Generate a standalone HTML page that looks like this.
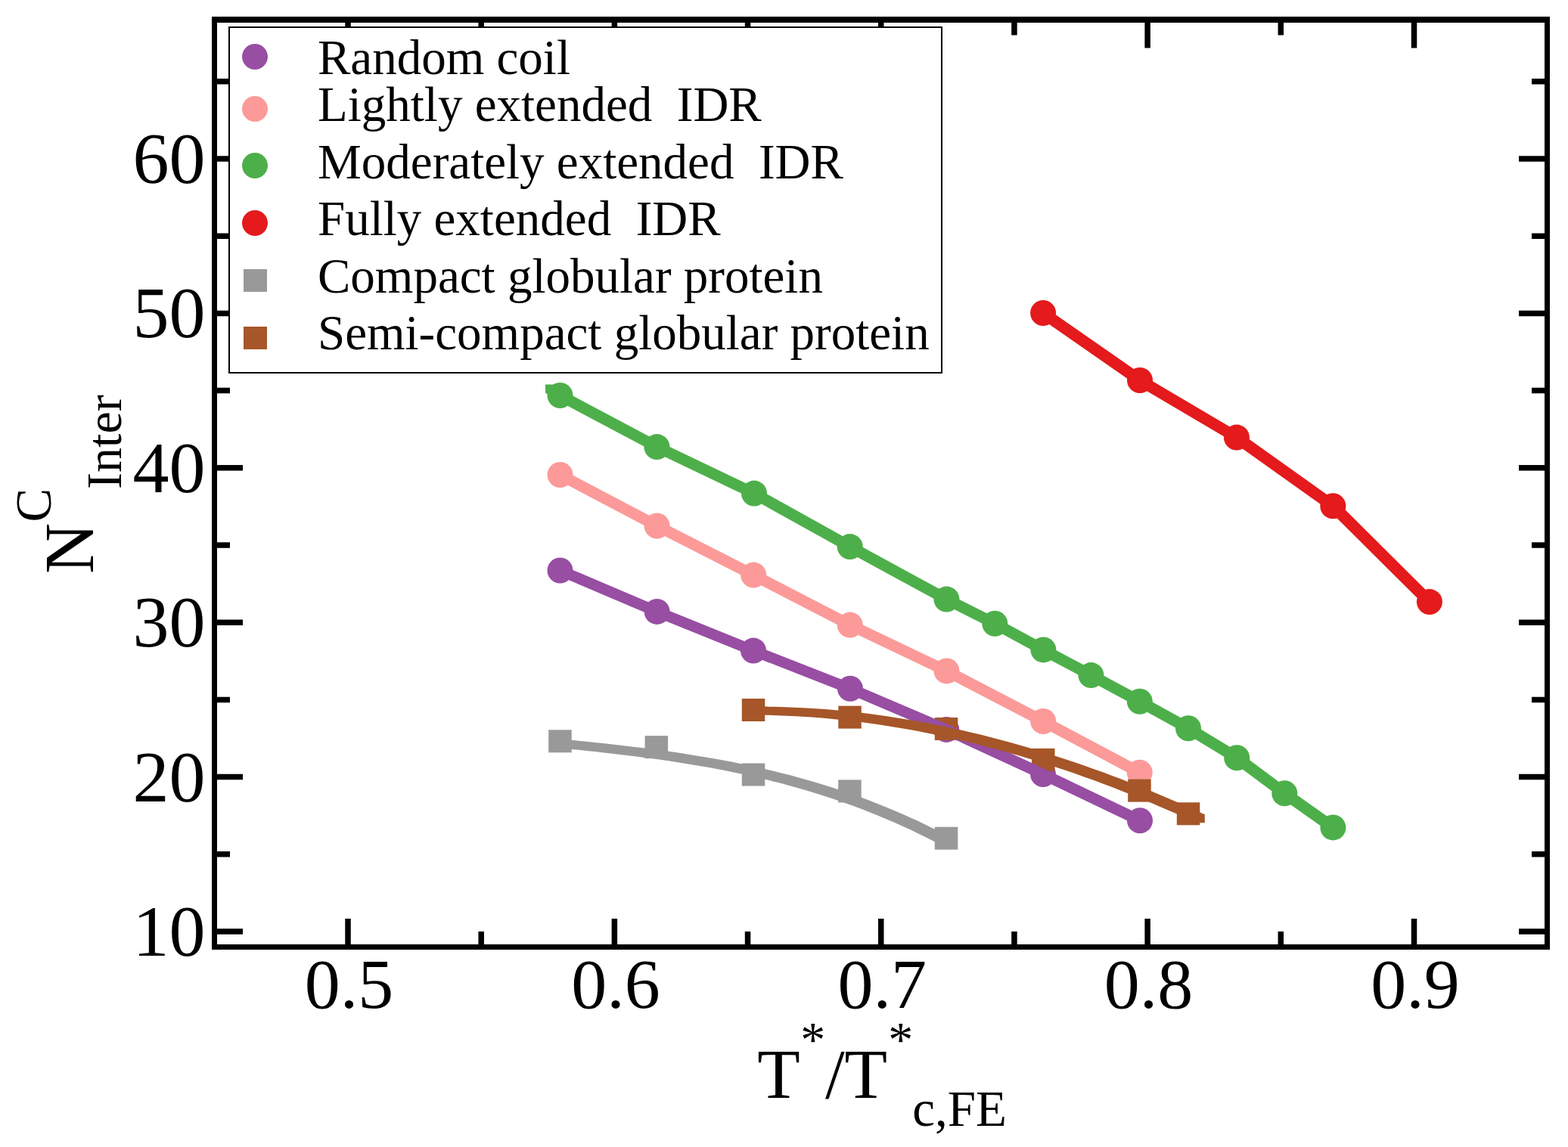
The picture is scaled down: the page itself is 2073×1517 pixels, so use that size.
<!DOCTYPE html><html><head><meta charset="utf-8"><title>N Inter vs T</title>
<style>html,body{margin:0;padding:0;background:#fff;}svg{display:block;}text{font-family:'Liberation Serif', 'Times New Roman', serif;fill:#000;}</style></head><body>
<svg width="2073" height="1517" viewBox="0 0 2073 1517">
<rect x="0" y="0" width="2073" height="1517" fill="#fff"/>
<g>
<circle cx="740.5" cy="754.5" r="17" fill="#984ea3"/><circle cx="868.6" cy="808.9" r="17" fill="#984ea3"/><circle cx="996.0" cy="860.6" r="17" fill="#984ea3"/><circle cx="1124.0" cy="910.8" r="17" fill="#984ea3"/><circle cx="1251.2" cy="964.9" r="17" fill="#984ea3"/><circle cx="1379.0" cy="1024.0" r="17" fill="#984ea3"/><circle cx="1507.0" cy="1085.3" r="17" fill="#984ea3"/><circle cx="740.5" cy="628.0" r="17" fill="#fb9a99"/><circle cx="868.6" cy="695.5" r="17" fill="#fb9a99"/><circle cx="996.2" cy="760.6" r="17" fill="#fb9a99"/><circle cx="1123.7" cy="826.6" r="17" fill="#fb9a99"/><circle cx="1251.5" cy="887.4" r="17" fill="#fb9a99"/><circle cx="1379.2" cy="954.0" r="17" fill="#fb9a99"/><circle cx="1506.7" cy="1021.8" r="17" fill="#fb9a99"/><circle cx="740.5" cy="523.0" r="17" fill="#4daf4a"/><circle cx="868.4" cy="591.1" r="17" fill="#4daf4a"/><circle cx="997.0" cy="652.6" r="17" fill="#4daf4a"/><circle cx="1123.7" cy="723.1" r="17" fill="#4daf4a"/><circle cx="1251.4" cy="792.6" r="17" fill="#4daf4a"/><circle cx="1315.3" cy="824.7" r="17" fill="#4daf4a"/><circle cx="1379.4" cy="859.4" r="17" fill="#4daf4a"/><circle cx="1442.4" cy="893.1" r="17" fill="#4daf4a"/><circle cx="1506.8" cy="927.7" r="17" fill="#4daf4a"/><circle cx="1571.0" cy="963.3" r="17" fill="#4daf4a"/><circle cx="1635.2" cy="1002.3" r="17" fill="#4daf4a"/><circle cx="1698.3" cy="1049.2" r="17" fill="#4daf4a"/><circle cx="1762.4" cy="1094.4" r="17" fill="#4daf4a"/><circle cx="1379.1" cy="414.0" r="17" fill="#e41a1c"/><circle cx="1507.0" cy="503.0" r="17" fill="#e41a1c"/><circle cx="1634.9" cy="578.6" r="17" fill="#e41a1c"/><circle cx="1762.3" cy="669.2" r="17" fill="#e41a1c"/><circle cx="1889.9" cy="796.1" r="17" fill="#e41a1c"/>
<rect x="725.2" y="965.3" width="30.5" height="30" fill="#999999"/><rect x="852.6" y="973.1" width="30.5" height="30" fill="#999999"/><rect x="980.8" y="1009.5" width="30.5" height="30" fill="#999999"/><rect x="1108.2" y="1031.4" width="30.5" height="30" fill="#999999"/><rect x="1235.8" y="1093.7" width="30.5" height="30" fill="#999999"/><rect x="980.8" y="924.0" width="30.5" height="30" fill="#a65628"/><rect x="1108.3" y="933.6" width="30.5" height="30" fill="#a65628"/><rect x="1235.8" y="949.0" width="30.5" height="30" fill="#a65628"/><rect x="1364.0" y="989.9" width="30.5" height="30" fill="#a65628"/><rect x="1491.2" y="1030.6" width="30.5" height="30" fill="#a65628"/><rect x="1555.8" y="1061.3" width="30.5" height="30" fill="#a65628"/>
<path d="M735.00,749.00 746.00,749.00 874.10,803.40 874.10,814.40 863.10,814.40 735.00,760.00ZM863.10,803.40 874.10,803.40 1001.50,855.10 1001.50,866.10 990.50,866.10 863.10,814.40ZM990.50,855.10 1001.50,855.10 1129.50,905.30 1129.50,916.30 1118.50,916.30 990.50,866.10ZM1118.50,905.30 1129.50,905.30 1256.70,959.40 1256.70,970.40 1245.70,970.40 1118.50,916.30ZM1245.70,959.40 1256.70,959.40 1384.50,1018.50 1384.50,1029.50 1373.50,1029.50 1245.70,970.40ZM1373.50,1018.50 1384.50,1018.50 1512.50,1079.80 1512.50,1090.80 1501.50,1090.80 1373.50,1029.50Z" fill="#984ea3"/>
<path d="M735.00,622.50 746.00,622.50 874.10,690.00 874.10,701.00 863.10,701.00 735.00,633.50ZM863.10,690.00 874.10,690.00 1001.70,755.10 1001.70,766.10 990.70,766.10 863.10,701.00ZM990.70,755.10 1001.70,755.10 1129.20,821.10 1129.20,832.10 1118.20,832.10 990.70,766.10ZM1118.20,821.10 1129.20,821.10 1257.00,881.90 1257.00,892.90 1246.00,892.90 1118.20,832.10ZM1246.00,881.90 1257.00,881.90 1384.70,948.50 1384.70,959.50 1373.70,959.50 1246.00,892.90ZM1373.70,948.50 1384.70,948.50 1512.20,1016.30 1512.20,1027.30 1501.20,1027.30 1373.70,959.50Z" fill="#fb9a99"/>
<path d="M721.00,508.50 732.00,508.50 746.00,517.50 746.00,528.50 735.00,528.50 721.00,519.50ZM735.00,517.50 746.00,517.50 873.90,585.60 873.90,596.60 862.90,596.60 735.00,528.50ZM862.90,585.60 873.90,585.60 1002.50,647.10 1002.50,658.10 991.50,658.10 862.90,596.60ZM991.50,647.10 1002.50,647.10 1129.20,717.60 1129.20,728.60 1118.20,728.60 991.50,658.10ZM1118.20,717.60 1129.20,717.60 1256.90,787.10 1256.90,798.10 1245.90,798.10 1118.20,728.60ZM1245.90,787.10 1256.90,787.10 1320.80,819.20 1320.80,830.20 1309.80,830.20 1245.90,798.10ZM1309.80,819.20 1320.80,819.20 1384.90,853.90 1384.90,864.90 1373.90,864.90 1309.80,830.20ZM1373.90,853.90 1384.90,853.90 1447.90,887.60 1447.90,898.60 1436.90,898.60 1373.90,864.90ZM1436.90,887.60 1447.90,887.60 1512.30,922.20 1512.30,933.20 1501.30,933.20 1436.90,898.60ZM1501.30,922.20 1512.30,922.20 1576.50,957.80 1576.50,968.80 1565.50,968.80 1501.30,933.20ZM1565.50,957.80 1576.50,957.80 1640.70,996.80 1640.70,1007.80 1629.70,1007.80 1565.50,968.80ZM1629.70,996.80 1640.70,996.80 1703.80,1043.70 1703.80,1054.70 1692.80,1054.70 1629.70,1007.80ZM1692.80,1043.70 1703.80,1043.70 1767.90,1088.90 1767.90,1099.90 1756.90,1099.90 1692.80,1054.70Z" fill="#4daf4a"/>
<path d="M1373.60,408.50 1384.60,408.50 1512.50,497.50 1512.50,508.50 1501.50,508.50 1373.60,419.50ZM1501.50,497.50 1512.50,497.50 1640.40,573.10 1640.40,584.10 1629.40,584.10 1501.50,508.50ZM1629.40,573.10 1640.40,573.10 1767.80,663.70 1767.80,674.70 1756.80,674.70 1629.40,584.10ZM1756.80,663.70 1767.80,663.70 1895.40,790.60 1895.40,801.60 1884.40,801.60 1756.80,674.70Z" fill="#e41a1c"/>
<path d="M735.00,977.83 746.00,977.83 756.64,978.88 756.64,989.88 745.64,989.88 735.00,988.83ZM745.64,978.88 756.64,978.88 767.27,979.95 767.27,990.95 756.27,990.95 745.64,989.88ZM756.27,979.95 767.27,979.95 777.91,981.03 777.91,992.03 766.91,992.03 756.27,990.95ZM766.91,981.03 777.91,981.03 788.54,982.14 788.54,993.14 777.54,993.14 766.91,992.03ZM777.54,982.14 788.54,982.14 799.18,983.28 799.18,994.28 788.18,994.28 777.54,993.14ZM788.18,983.28 799.18,983.28 809.81,984.45 809.81,995.45 798.81,995.45 788.18,994.28ZM798.81,984.45 809.81,984.45 820.45,985.66 820.45,996.66 809.45,996.66 798.81,995.45ZM809.45,985.66 820.45,985.66 831.08,986.90 831.08,997.90 820.08,997.90 809.45,996.66ZM820.08,986.90 831.08,986.90 841.72,988.19 841.72,999.19 830.72,999.19 820.08,997.90ZM830.72,988.19 841.72,988.19 852.35,989.52 852.35,1000.52 841.35,1000.52 830.72,999.19ZM841.35,989.52 852.35,989.52 862.99,990.90 862.99,1001.90 851.99,1001.90 841.35,1000.52ZM851.99,990.90 862.99,990.90 873.62,992.33 873.62,1003.33 862.62,1003.33 851.99,1001.90ZM862.62,992.33 873.62,992.33 884.26,993.82 884.26,1004.82 873.26,1004.82 862.62,1003.33ZM873.26,993.82 884.26,993.82 894.90,995.36 894.90,1006.36 883.90,1006.36 873.26,1004.82ZM883.90,995.36 894.90,995.36 905.53,996.97 905.53,1007.97 894.53,1007.97 883.90,1006.36ZM894.53,996.97 905.53,996.97 916.17,998.64 916.17,1009.64 905.17,1009.64 894.53,1007.97ZM905.17,998.64 916.17,998.64 926.80,1000.39 926.80,1011.39 915.80,1011.39 905.17,1009.64ZM915.80,1000.39 926.80,1000.39 937.44,1002.20 937.44,1013.20 926.44,1013.20 915.80,1011.39ZM926.44,1002.20 937.44,1002.20 948.07,1004.10 948.07,1015.10 937.07,1015.10 926.44,1013.20ZM937.07,1004.10 948.07,1004.10 958.71,1006.07 958.71,1017.07 947.71,1017.07 937.07,1015.10ZM947.71,1006.07 958.71,1006.07 969.34,1008.12 969.34,1019.12 958.34,1019.12 947.71,1017.07ZM958.34,1008.12 969.34,1008.12 979.98,1010.26 979.98,1021.26 968.98,1021.26 958.34,1019.12ZM968.98,1010.26 979.98,1010.26 990.61,1012.49 990.61,1023.49 979.61,1023.49 968.98,1021.26ZM979.61,1012.49 990.61,1012.49 1001.25,1014.82 1001.25,1025.82 990.25,1025.82 979.61,1023.49ZM990.25,1014.82 1001.25,1014.82 1011.89,1017.24 1011.89,1028.24 1000.89,1028.24 990.25,1025.82ZM1000.89,1017.24 1011.89,1017.24 1022.52,1019.76 1022.52,1030.76 1011.52,1030.76 1000.89,1028.24ZM1011.52,1019.76 1022.52,1019.76 1033.16,1022.38 1033.16,1033.38 1022.16,1033.38 1011.52,1030.76ZM1022.16,1022.38 1033.16,1022.38 1043.79,1025.11 1043.79,1036.11 1032.79,1036.11 1022.16,1033.38ZM1032.79,1025.11 1043.79,1025.11 1054.43,1027.95 1054.43,1038.95 1043.43,1038.95 1032.79,1036.11ZM1043.43,1027.95 1054.43,1027.95 1065.06,1030.90 1065.06,1041.90 1054.06,1041.90 1043.43,1038.95ZM1054.06,1030.90 1065.06,1030.90 1075.70,1033.97 1075.70,1044.97 1064.70,1044.97 1054.06,1041.90ZM1064.70,1033.97 1075.70,1033.97 1086.33,1037.17 1086.33,1048.17 1075.33,1048.17 1064.70,1044.97ZM1075.33,1037.17 1086.33,1037.17 1096.97,1040.48 1096.97,1051.48 1085.97,1051.48 1075.33,1048.17ZM1085.97,1040.48 1096.97,1040.48 1107.60,1043.92 1107.60,1054.92 1096.60,1054.92 1085.97,1051.48ZM1096.60,1043.92 1107.60,1043.92 1118.24,1047.50 1118.24,1058.50 1107.24,1058.50 1096.60,1054.92ZM1107.24,1047.50 1118.24,1047.50 1128.88,1051.21 1128.88,1062.21 1117.88,1062.21 1107.24,1058.50ZM1117.88,1051.21 1128.88,1051.21 1139.51,1055.05 1139.51,1066.05 1128.51,1066.05 1117.88,1062.21ZM1128.51,1055.05 1139.51,1055.05 1150.15,1059.04 1150.15,1070.04 1139.15,1070.04 1128.51,1066.05ZM1139.15,1059.04 1150.15,1059.04 1160.78,1063.17 1160.78,1074.17 1149.78,1074.17 1139.15,1070.04ZM1149.78,1063.17 1160.78,1063.17 1171.42,1067.45 1171.42,1078.45 1160.42,1078.45 1149.78,1074.17ZM1160.42,1067.45 1171.42,1067.45 1182.05,1071.88 1182.05,1082.88 1171.05,1082.88 1160.42,1078.45ZM1171.05,1071.88 1182.05,1071.88 1192.69,1076.46 1192.69,1087.46 1181.69,1087.46 1171.05,1082.88ZM1181.69,1076.46 1192.69,1076.46 1203.32,1081.20 1203.32,1092.20 1192.32,1092.20 1181.69,1087.46ZM1192.32,1081.20 1203.32,1081.20 1213.96,1086.11 1213.96,1097.11 1202.96,1097.11 1192.32,1092.20ZM1202.96,1086.11 1213.96,1086.11 1224.59,1091.18 1224.59,1102.18 1213.59,1102.18 1202.96,1097.11ZM1213.59,1091.18 1224.59,1091.18 1235.23,1096.42 1235.23,1107.42 1224.23,1107.42 1213.59,1102.18ZM1224.23,1096.42 1235.23,1096.42 1245.86,1101.83 1245.86,1112.83 1234.86,1112.83 1224.23,1107.42ZM1234.86,1101.83 1245.86,1101.83 1256.50,1107.41 1256.50,1118.41 1245.50,1118.41 1234.86,1112.83Z" fill="#999999"/>
<path d="M990.50,934.53 1001.50,934.53 1013.82,934.60 1013.82,945.60 1002.82,945.60 990.50,945.53ZM1002.82,934.60 1013.82,934.60 1026.14,934.81 1026.14,945.81 1015.14,945.81 1002.82,945.60ZM1015.14,934.81 1026.14,934.81 1038.46,935.16 1038.46,946.16 1027.46,946.16 1015.14,945.81ZM1027.46,935.16 1038.46,935.16 1050.78,935.63 1050.78,946.63 1039.78,946.63 1027.46,946.16ZM1039.78,935.63 1050.78,935.63 1063.09,936.24 1063.09,947.24 1052.09,947.24 1039.78,946.63ZM1052.09,936.24 1063.09,936.24 1075.41,936.97 1075.41,947.97 1064.41,947.97 1052.09,947.24ZM1064.41,936.97 1075.41,936.97 1087.73,937.84 1087.73,948.84 1076.73,948.84 1064.41,947.97ZM1076.73,937.84 1087.73,937.84 1100.05,938.84 1100.05,949.84 1089.05,949.84 1076.73,948.84ZM1089.05,938.84 1100.05,938.84 1112.37,939.96 1112.37,950.96 1101.37,950.96 1089.05,949.84ZM1101.37,939.96 1112.37,939.96 1124.69,941.22 1124.69,952.22 1113.69,952.22 1101.37,950.96ZM1113.69,941.22 1124.69,941.22 1137.01,942.60 1137.01,953.60 1126.01,953.60 1113.69,952.22ZM1126.01,942.60 1137.01,942.60 1149.33,944.11 1149.33,955.11 1138.33,955.11 1126.01,953.60ZM1138.33,944.11 1149.33,944.11 1161.64,945.74 1161.64,956.74 1150.64,956.74 1138.33,955.11ZM1150.64,945.74 1161.64,945.74 1173.96,947.50 1173.96,958.50 1162.96,958.50 1150.64,956.74ZM1162.96,947.50 1173.96,947.50 1186.28,949.39 1186.28,960.39 1175.28,960.39 1162.96,958.50ZM1175.28,949.39 1186.28,949.39 1198.60,951.40 1198.60,962.40 1187.60,962.40 1175.28,960.39ZM1187.60,951.40 1198.60,951.40 1210.92,953.53 1210.92,964.53 1199.92,964.53 1187.60,962.40ZM1199.92,953.53 1210.92,953.53 1223.24,955.79 1223.24,966.79 1212.24,966.79 1199.92,964.53ZM1212.24,955.79 1223.24,955.79 1235.56,958.17 1235.56,969.17 1224.56,969.17 1212.24,966.79ZM1224.56,958.17 1235.56,958.17 1247.88,960.67 1247.88,971.67 1236.88,971.67 1224.56,969.17ZM1236.88,960.67 1247.88,960.67 1260.19,963.29 1260.19,974.29 1249.19,974.29 1236.88,971.67ZM1249.19,963.29 1260.19,963.29 1272.51,966.03 1272.51,977.03 1261.51,977.03 1249.19,974.29ZM1261.51,966.03 1272.51,966.03 1284.83,968.89 1284.83,979.89 1273.83,979.89 1261.51,977.03ZM1273.83,968.89 1284.83,968.89 1297.15,971.87 1297.15,982.87 1286.15,982.87 1273.83,979.89ZM1286.15,971.87 1297.15,971.87 1309.47,974.96 1309.47,985.96 1298.47,985.96 1286.15,982.87ZM1298.47,974.96 1309.47,974.96 1321.79,978.18 1321.79,989.18 1310.79,989.18 1298.47,985.96ZM1310.79,978.18 1321.79,978.18 1334.11,981.51 1334.11,992.51 1323.11,992.51 1310.79,989.18ZM1323.11,981.51 1334.11,981.51 1346.42,984.96 1346.42,995.96 1335.42,995.96 1323.11,992.51ZM1335.42,984.96 1346.42,984.96 1358.74,988.52 1358.74,999.52 1347.74,999.52 1335.42,995.96ZM1347.74,988.52 1358.74,988.52 1371.06,992.20 1371.06,1003.20 1360.06,1003.20 1347.74,999.52ZM1360.06,992.20 1371.06,992.20 1383.38,995.99 1383.38,1006.99 1372.38,1006.99 1360.06,1003.20ZM1372.38,995.99 1383.38,995.99 1395.70,999.90 1395.70,1010.90 1384.70,1010.90 1372.38,1006.99ZM1384.70,999.90 1395.70,999.90 1408.02,1003.92 1408.02,1014.92 1397.02,1014.92 1384.70,1010.90ZM1397.02,1003.92 1408.02,1003.92 1420.34,1008.05 1420.34,1019.05 1409.34,1019.05 1397.02,1014.92ZM1409.34,1008.05 1420.34,1008.05 1432.66,1012.29 1432.66,1023.29 1421.66,1023.29 1409.34,1019.05ZM1421.66,1012.29 1432.66,1012.29 1444.97,1016.64 1444.97,1027.64 1433.97,1027.64 1421.66,1023.29ZM1433.97,1016.64 1444.97,1016.64 1457.29,1021.11 1457.29,1032.11 1446.29,1032.11 1433.97,1027.64ZM1446.29,1021.11 1457.29,1021.11 1469.61,1025.68 1469.61,1036.68 1458.61,1036.68 1446.29,1032.11ZM1458.61,1025.68 1469.61,1025.68 1481.93,1030.36 1481.93,1041.36 1470.93,1041.36 1458.61,1036.68ZM1470.93,1030.36 1481.93,1030.36 1494.25,1035.15 1494.25,1046.15 1483.25,1046.15 1470.93,1041.36ZM1483.25,1035.15 1494.25,1035.15 1506.57,1040.05 1506.57,1051.05 1495.57,1051.05 1483.25,1046.15ZM1495.57,1040.05 1506.57,1040.05 1518.89,1045.05 1518.89,1056.05 1507.89,1056.05 1495.57,1051.05ZM1507.89,1045.05 1518.89,1045.05 1531.21,1050.16 1531.21,1061.16 1520.21,1061.16 1507.89,1056.05ZM1520.21,1050.16 1531.21,1050.16 1543.53,1055.38 1543.53,1066.38 1532.53,1066.38 1520.21,1061.16ZM1532.53,1055.38 1543.53,1055.38 1555.84,1060.70 1555.84,1071.70 1544.84,1071.70 1532.53,1066.38ZM1544.84,1060.70 1555.84,1060.70 1568.16,1066.12 1568.16,1077.12 1557.16,1077.12 1544.84,1071.70ZM1557.16,1066.12 1568.16,1066.12 1580.48,1071.65 1580.48,1082.65 1569.48,1082.65 1557.16,1077.12ZM1569.48,1071.65 1580.48,1071.65 1592.80,1077.28 1592.80,1088.28 1581.80,1088.28 1569.48,1082.65Z" fill="#a65628"/>
</g>
<path d="M460.00,1252.5V1215.0 M460.00,26.0V63.5 M812.38,1252.5V1215.0 M812.38,26.0V63.5 M1164.75,1252.5V1215.0 M1164.75,26.0V63.5 M1517.13,1252.5V1215.0 M1517.13,26.0V63.5 M1869.50,1252.5V1215.0 M1869.50,26.0V63.5 M636.19,1252.5V1232.0 M636.19,26.0V46.5 M988.56,1252.5V1232.0 M988.56,26.0V46.5 M1340.94,1252.5V1232.0 M1340.94,26.0V46.5 M1693.31,1252.5V1232.0 M1693.31,26.0V46.5 M283.5,1232.00H321.0 M2045.5,1232.00H2008.0 M283.5,1027.60H321.0 M2045.5,1027.60H2008.0 M283.5,823.20H321.0 M2045.5,823.20H2008.0 M283.5,618.80H321.0 M2045.5,618.80H2008.0 M283.5,414.40H321.0 M2045.5,414.40H2008.0 M283.5,210.00H321.0 M2045.5,210.00H2008.0 M283.5,1129.80H304.0 M2045.5,1129.80H2025.0 M283.5,925.40H304.0 M2045.5,925.40H2025.0 M283.5,721.00H304.0 M2045.5,721.00H2025.0 M283.5,516.60H304.0 M2045.5,516.60H2025.0 M283.5,312.20H304.0 M2045.5,312.20H2025.0 M283.5,107.80H304.0 M2045.5,107.80H2025.0" stroke="#000" stroke-width="7.5" fill="none"/>
<rect x="280" y="22" width="1769" height="8" fill="#000"/>
<rect x="280" y="1249" width="1769" height="7" fill="#000"/>
<rect x="280" y="22" width="7" height="1234" fill="#000"/>
<rect x="2042" y="22" width="7" height="1234" fill="#000"/>
<rect x="303" y="36" width="942" height="457" fill="#fff" stroke="#000" stroke-width="2"/>
<circle cx="337" cy="75" r="17" fill="#984ea3"/>
<text x="420" y="97.5" font-size="65" style="white-space:pre">Random coil</text>
<circle cx="337" cy="144" r="17" fill="#fb9a99"/>
<text x="420" y="159.6" font-size="65" style="white-space:pre">Lightly extended  IDR</text>
<circle cx="337" cy="219" r="17" fill="#4daf4a"/>
<text x="420" y="236.4" font-size="65" style="white-space:pre">Moderately extended  IDR</text>
<circle cx="337" cy="295" r="17" fill="#e41a1c"/>
<text x="420" y="310.9" font-size="65" style="white-space:pre">Fully extended  IDR</text>
<rect x="322" y="356" width="31" height="30" fill="#999999"/>
<text x="420" y="387.2" font-size="65" style="white-space:pre">Compact globular protein</text>
<rect x="322" y="432" width="31" height="30" fill="#a65628"/>
<text x="420" y="462.3" font-size="65" style="white-space:pre">Semi-compact globular protein</text>
<text x="271.6" y="1264.0" font-size="96" text-anchor="end">10</text>
<text x="271.6" y="1059.6" font-size="96" text-anchor="end">20</text>
<text x="271.6" y="855.2" font-size="96" text-anchor="end">30</text>
<text x="271.6" y="650.8" font-size="96" text-anchor="end">40</text>
<text x="271.6" y="446.4" font-size="96" text-anchor="end">50</text>
<text x="271.6" y="242.0" font-size="96" text-anchor="end">60</text>
<text x="461.5" y="1333.4" font-size="94" text-anchor="middle">0.5</text>
<text x="813.9" y="1333.4" font-size="94" text-anchor="middle">0.6</text>
<text x="1166.2" y="1333.4" font-size="94" text-anchor="middle">0.7</text>
<text x="1518.6" y="1333.4" font-size="94" text-anchor="middle">0.8</text>
<text x="1871.0" y="1333.4" font-size="94" text-anchor="middle">0.9</text>
<text x="1001.2" y="1452.2" font-size="92.5">T</text>
<text x="1058.2" y="1396.5" font-size="66">*</text>
<text x="1090.9" y="1452.2" font-size="92.5">/T</text>
<text x="1174.2" y="1396.5" font-size="66">*</text>
<text x="1206.3" y="1489.4" font-size="67">c,FE</text>
<text transform="translate(123.4,758.9) rotate(-90)" font-size="93.5">N</text>
<text transform="translate(67.2,690.5) rotate(-90)" font-size="67">C</text>
<text transform="translate(160,646.9) rotate(-90)" font-size="66">Inter</text>
</svg></body></html>
